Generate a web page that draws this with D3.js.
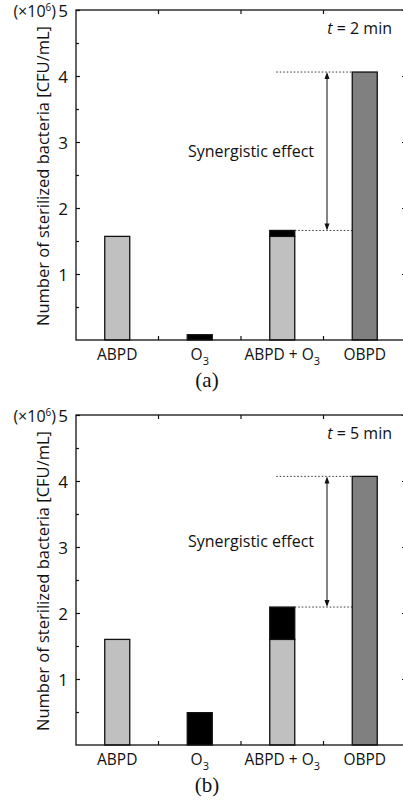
<!DOCTYPE html>
<html>
<head>
<meta charset="utf-8">
<script src="https://cdn.jsdelivr.net/npm/d3@7"></script>
<style>
  body { margin: 0; background: #fff; }
  text { font-family: "Open Sans", sans-serif; fill: #111; }
</style>
</head>
<body>
<div id="root"></div>
<script>
const categories = ['ABPD', 'O3', 'ABPD + O3', 'OBPD'];
const panelTimes = [2, 5];
const panelCaptions = ['(a)', '(b)'];
const abpdValues = [1.57, 1.60];
const ozoneValues = [0.08, 0.49];
const combinedValues = [1.66, 2.09];
const obpdValues = [4.06, 4.07];
const yTicks = [1, 2, 3, 4, 5];
const yMinorTicks = [0.5, 1.5, 2.5, 3.5, 4.5];

const W = 403, H = 806;
const panelTops = [10, 415];
const plotW = 330, plotH = 330;
const left = 76;

const svg = d3.select('#root').append('svg')
  .attr('width', W).attr('height', H);

function drawPanel(i) {
  const g = svg.append('g')
    .attr('transform', `translate(${left}, ${panelTops[i]})`);

  const x = d3.scaleBand().domain(categories).range([0, plotW]);
  const y = d3.scaleLinear().domain([0, 5]).range([plotH, 0]);
  const bw = 25;

  // stacked segments: [category, from, to, fill]
  const segs = [
    ['ABPD', 0, abpdValues[i], '#c0c0c0'],
    ['O3', 0, ozoneValues[i], '#000'],
    ['ABPD + O3', 0, abpdValues[i], '#c0c0c0'],
    ['ABPD + O3', abpdValues[i], combinedValues[i], '#000'],
    ['OBPD', 0, obpdValues[i], '#808080']
  ];

  g.selectAll('rect.bar').data(segs).enter().append('rect')
    .attr('class', 'bar')
    .attr('x', d => x(d[0]) + x.bandwidth() / 2 - bw / 2)
    .attr('width', bw)
    .attr('y', d => y(d[2]))
    .attr('height', d => y(d[1]) - y(d[2]))
    .attr('fill', d => d[3])
    .attr('stroke', '#111')
    .attr('stroke-width', 1.3);

  // frame
  g.append('rect')
    .attr('x', 0).attr('y', 0).attr('width', plotW).attr('height', plotH)
    .attr('fill', 'none').attr('stroke', '#111').attr('stroke-width', 1.3);

  // left ticks + labels
  g.append('g').call(d3.axisRight(y).tickValues(yTicks).tickSize(4).tickFormat(''))
    .call(a => a.select('.domain').remove());
  g.append('g').call(d3.axisRight(y).tickValues(yMinorTicks).tickSize(3).tickFormat(''))
    .call(a => a.select('.domain').remove());
  g.selectAll('text.ylab').data(yTicks).enter().append('text')
    .attr('class', 'ylab')
    .attr('x', -8).attr('y', d => y(d)).attr('dy', '0.42em')
    .attr('text-anchor', 'end').style('font-size', '17px')
    .text(d => d);

  // right ticks
  g.append('g').attr('transform', `translate(${plotW},0)`)
    .call(d3.axisLeft(y).tickValues(yTicks).tickSize(4).tickFormat(''))
    .call(a => a.select('.domain').remove());
  g.append('g').attr('transform', `translate(${plotW},0)`)
    .call(d3.axisLeft(y).tickValues(yMinorTicks).tickSize(3).tickFormat(''))
    .call(a => a.select('.domain').remove());

  // x ticks between categories, top and bottom
  const xSep = categories.slice(1).map(c => x(c));
  g.selectAll('line.xtb').data(xSep).enter().append('line')
    .attr('x1', d => d).attr('x2', d => d)
    .attr('y1', plotH).attr('y2', plotH - 4)
    .attr('stroke', '#111').attr('stroke-width', 1.2);
  g.selectAll('line.xtt').data(xSep).enter().append('line')
    .attr('x1', d => d).attr('x2', d => d)
    .attr('y1', 0).attr('y2', 4)
    .attr('stroke', '#111').attr('stroke-width', 1.2);
  g.selectAll('.tick line').attr('stroke', '#111').attr('stroke-width', 1.2);

  // x labels
  const xl = g.selectAll('text.xlab').data(categories).enter().append('text')
    .attr('class', 'xlab')
    .attr('x', d => x(d) + x.bandwidth() / 2)
    .attr('y', plotH + 20)
    .attr('text-anchor', 'middle').style('font-size', '15.5px');
  xl.each(function(d) {
    const t = d3.select(this);
    if (d.endsWith('O3')) {
      t.append('tspan').text(d.slice(0, -1));
      t.append('tspan').attr('dy', 5).style('font-size', '11px').text('3');
    } else {
      t.text(d);
    }
  });

  // y title
  g.append('text')
    .attr('transform', `translate(-27, ${plotH / 2 + 1}) rotate(-90)`)
    .attr('text-anchor', 'middle').style('font-size', '16.5px')
    .text('Number of sterilized bacteria [CFU/mL]');
  const mult = g.append('text').attr('x', -20).attr('y', 7)
    .attr('text-anchor', 'end').style('font-size', '16px');
  mult.append('tspan').text('(×10');
  mult.append('tspan').attr('dy', -6).style('font-size', '10px').text('6');
  mult.append('tspan').attr('dy', 6).text(')');

  // time label
  const tl = g.append('text').attr('x', 316).attr('y', 24)
    .attr('text-anchor', 'end').style('font-size', '16px');
  tl.append('tspan').style('font-style', 'italic').text('t');
  tl.append('tspan').text(` = ${panelTimes[i]} min`);

  // synergistic effect annotation
  const cx = x('ABPD + O3') + x.bandwidth() / 2;
  const ox = x('OBPD') + x.bandwidth() / 2;
  const ax = 251;
  const y1 = y(obpdValues[i]), y2 = y(combinedValues[i]);
  g.append('line')
    .attr('x1', cx - 6).attr('x2', ox - bw / 2)
    .attr('y1', y1).attr('y2', y1)
    .attr('stroke', '#333').attr('stroke-width', 1).attr('stroke-dasharray', '1.5,2');
  g.append('line')
    .attr('x1', cx + bw / 2).attr('x2', ox - bw / 2)
    .attr('y1', y2).attr('y2', y2)
    .attr('stroke', '#333').attr('stroke-width', 1).attr('stroke-dasharray', '1.5,2');
  g.append('line').attr('x1', ax).attr('x2', ax).attr('y1', y1 + 2).attr('y2', y2 - 2)
    .attr('stroke', '#444').attr('stroke-width', 1.3);
  g.append('path').attr('d', `M${ax},${y1} l-2.5,7 l5,0 z`).attr('fill', '#111');
  g.append('path').attr('d', `M${ax},${y2} l-2.5,-7 l5,0 z`).attr('fill', '#111');
  g.append('text')
    .attr('x', 175).attr('y', (y1 + y2) / 2).attr('dy', '0.36em')
    .attr('text-anchor', 'middle').style('font-size', '16px')
    .text('Synergistic effect');

  // caption
  svg.append('text')
    .attr('x', 207).attr('y', panelTops[i] + plotH + 47)
    .attr('text-anchor', 'middle')
    .style('font-family', '"Liberation Serif", serif').style('font-size', '21px')
    .text(panelCaptions[i]);
}

panelTimes.forEach((t, i) => drawPanel(i));
</script>
</body>
</html>
